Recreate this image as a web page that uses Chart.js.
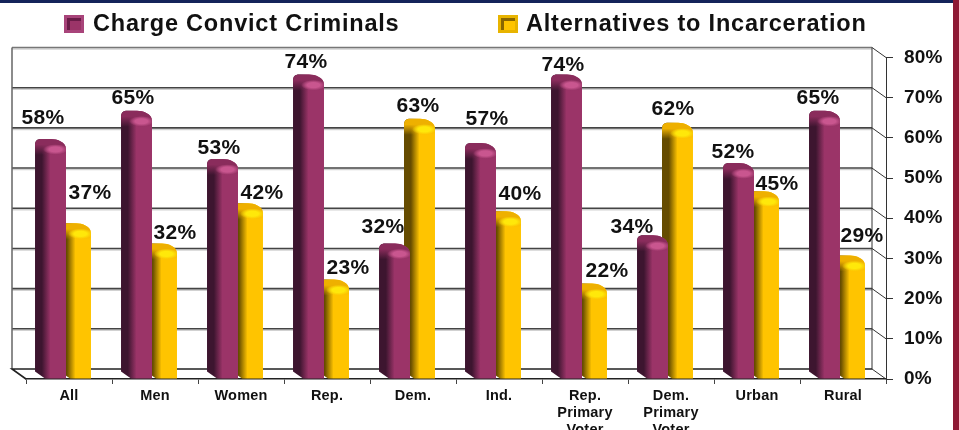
<!DOCTYPE html>
<html>
<head>
<meta charset="utf-8">
<style>
html,body{margin:0;padding:0;background:#fff;width:959px;height:430px;overflow:hidden}
#wrap{position:relative;width:959px;height:430px;overflow:hidden}
canvas{position:absolute;left:0;top:0;filter:blur(.45px)}
#navy{position:absolute;left:0;top:0;width:953px;height:3px;background:#14235a}
#maroon{position:absolute;left:953px;top:0;width:6px;height:430px;background:#8e1a35}
</style>
<script src="https://cdn.jsdelivr.net/npm/chart.js@4"></script>
</head>
<body>
<div id="wrap"><canvas id="c" width="959" height="430"></canvas><div id="navy"></div><div id="maroon"></div></div>
<script>
const categories = ["All","Men","Women","Rep.","Dem.","Ind.",["Rep.","Primary","Voter"],["Dem.","Primary","Voter"],"Urban","Rural"];
const chargeValues = [58,65,53,74,32,57,74,34,52,65];
const alternativeValues = [37,32,42,23,63,40,22,62,45,29];
const seriesNames = ["Charge Convict Criminals","Alternatives to Incarceration"];

// label nudges relative to each bar's head
const chargeLabelNudge = [[-7.5,-29],[-3.5,-21],[-3.5,-19],[-2.5,-20.5],[-11.5,-25],[6.5,-32],[-3.5,-17.5],[-20.5,-17],[-5.5,-19],[-6.5,-21]];
const alternativeLabelNudge = [[14.5,-39],[13.5,-19],[14.5,-19],[14.5,-19.5],[-1.5,-21],[14.5,-26],[15.5,-20.5],[-4.5,-22],[13.5,-15],[12.5,-28]];

const PURPLE = "#9b3468", GOLD = "#ffc400";
const shades = {
  [PURPLE]: {side:"#3d152f", cap:"#8a2c5c", glow:"#c9568f", bevel:"#a8447a", well:"#6a1c48"},
  [GOLD]:   {side:"#664c00", cap:"#eeb000", glow:"#ffe80a", bevel:"#e8b400", well:"#8a6600"}
};
const depthX = -14, depthY = -10, barShift = -6, legendX = [[64,93],[498,526]];

// Give the library's own bar element a rounded, shaded column look
Chart.BarElement.prototype.draw = function(ctx){
  const {x,y,base,width} = this.getProps(["x","y","base","width"], false);
  const col = this.options.backgroundColor, s = shades[col];
  const l = x - width/2, r = x + width/2;
  const shape = () => {
    ctx.beginPath();
    ctx.moveTo(l, base-7);
    ctx.lineTo(l, y-1);
    ctx.bezierCurveTo(l, y-5, l+2, y-7, l+6, y-7);
    ctx.lineTo(l+16, y-7);
    ctx.bezierCurveTo(l+22, y-7, r, y-4, r, y+3);
    ctx.lineTo(r, base);
    ctx.lineTo(l+10, base);
    ctx.closePath();
  };
  ctx.save();
  const g = ctx.createLinearGradient(l,0,r,0);
  g.addColorStop(0, s.side); g.addColorStop(.22, s.side); g.addColorStop(.5, col); g.addColorStop(1, col);
  shape(); ctx.fillStyle = g; ctx.fill();
  ctx.clip();
  // cap shading fades down into the column
  const cg = ctx.createLinearGradient(0,y-7,0,y+9);
  cg.addColorStop(0, s.cap); cg.addColorStop(.35, s.cap); cg.addColorStop(1, s.cap+"00");
  ctx.fillStyle = cg; ctx.fillRect(l, y-8, width, 18);
  // soft highlight
  ctx.translate(l+width*.66, y+3.5); ctx.scale(1,.42);
  const rad = width*.4;
  const hg = ctx.createRadialGradient(0,0,1,0,0,rad);
  hg.addColorStop(0, s.glow); hg.addColorStop(.45, s.glow); hg.addColorStop(1, s.glow+"00");
  ctx.fillStyle = hg; ctx.beginPath(); ctx.arc(0,0,rad,0,Math.PI*2); ctx.fill();
  ctx.restore();
};

const chart3d = {
  id:"chart3d",
  beforeLayout(c){ c.ctx.letterSpacing = "0.2px"; },
  beforeDraw(c){ c.ctx.letterSpacing = "0.2px"; },
  afterDatasetUpdate(c,{meta}){ meta.data.forEach(b=>{ b.x += barShift; }); },
  beforeDatasetsDraw(c){
    const ctx = c.ctx, ya = c.scales.y, a = c.chartArea;
    ctx.save();
    const top = ya.getPixelForValue(80), bot = ya.getPixelForValue(0);
    // back wall + side connectors
    ya.ticks.forEach(t=>{
      const yy = ya.getPixelForValue(t.value);
      if(t.value>0){
        ctx.strokeStyle="rgba(0,0,0,.18)"; ctx.lineWidth=1.5;
        ctx.beginPath(); ctx.moveTo(a.left+depthX,yy+depthY+1.5); ctx.lineTo(a.right+depthX,yy+depthY+1.5); ctx.stroke();
        ctx.strokeStyle=t.value===80?"#777":"#444"; ctx.lineWidth=1.6;
        ctx.beginPath(); ctx.moveTo(a.left+depthX,yy+depthY); ctx.lineTo(a.right+depthX,yy+depthY); ctx.stroke();
      }
      ctx.strokeStyle="#333"; ctx.lineWidth=1;
      ctx.beginPath(); ctx.moveTo(a.right+depthX,yy+depthY); ctx.lineTo(a.right,yy); ctx.stroke();
    });
    // wall verticals
    ctx.strokeStyle="#666"; ctx.lineWidth=1.5;
    ctx.beginPath(); ctx.moveTo(a.left+depthX,top+depthY); ctx.lineTo(a.left+depthX,bot+depthY); ctx.stroke();
    ctx.strokeStyle="#333"; ctx.lineWidth=1;
    ctx.beginPath(); ctx.moveTo(a.right+depthX,top+depthY); ctx.lineTo(a.right+depthX,bot+depthY); ctx.stroke();
    // floor
    ctx.strokeStyle="#222"; ctx.lineWidth=1.6;
    ctx.beginPath(); ctx.moveTo(a.left,bot); ctx.lineTo(a.left+depthX,bot+depthY); ctx.lineTo(a.right+depthX,bot+depthY); ctx.stroke();
    ctx.restore();
  },
  afterDatasetsDraw(c){
    const ctx = c.ctx;
    ctx.save();
    // value labels
    ctx.letterSpacing="0.3px"; ctx.font="bold 21px 'Liberation Sans'"; ctx.fillStyle="#111";
    ctx.textAlign="center"; ctx.textBaseline="middle";
    [chargeLabelNudge, alternativeLabelNudge].forEach((nudge,i)=>{
      c.getDatasetMeta(i).data.forEach((b,j)=>{
        ctx.fillText(c.data.datasets[i].data[j]+"%", b.x+nudge[j][0], b.y+nudge[j][1]+1.5);
      });
    });
    // legend
    ctx.letterSpacing="0.8px"; ctx.font="bold 23.5px 'Liberation Sans'"; ctx.textAlign="left";
    c.data.datasets.forEach((d,i)=>{
      const s = shades[d.backgroundColor], x = legendX[i][0];
      ctx.fillStyle=s.bevel; ctx.fillRect(x,15,20,18);
      ctx.fillStyle=s.well; ctx.fillRect(x+3,18,14,12);
      ctx.fillStyle=d.backgroundColor; ctx.fillRect(x+6,21,11,9);
      ctx.fillStyle="#111"; ctx.fillText(d.label, legendX[i][1], 24.5);
    });
    ctx.restore();
  }
};

new Chart(document.getElementById("c"),{
  type:"bar",
  plugins:[chart3d],
  data:{
    labels:categories,
    datasets:[
      {label:seriesNames[0],data:chargeValues,backgroundColor:PURPLE,categoryPercentage:.581,barPercentage:1.24},
      {label:seriesNames[1],data:alternativeValues,backgroundColor:GOLD,categoryPercentage:.581,barPercentage:1.24}
    ]
  },
  options:{
    responsive:false,animation:false,devicePixelRatio:1,events:[],
    layout:{padding:{left:26,top:57.5,right:0,bottom:0}},
    plugins:{legend:{display:false},title:{display:false},tooltip:{enabled:false}},
    scales:{
      x:{
        afterFit(s){s.height=51;},
        grid:{offset:true,drawOnChartArea:false,drawTicks:true,tickLength:5,color:"#444"},
        border:{color:"#222",width:1.6},
        ticks:{autoSkip:false,maxRotation:0,minRotation:0,padding:4,color:"#111",
          font:{family:"'Liberation Sans'",size:14.5,weight:"bold",lineHeight:1.15}}
      },
      y:{
        position:"right",min:0,max:80,
        afterFit(s){s.width=73;},
        grid:{drawOnChartArea:false,tickLength:7,color:"#333"},
        border:{color:"#333",width:1},
        ticks:{stepSize:10,padding:11,color:"#111",callback:v=>v+"%",
          font:{family:"'Liberation Sans'",size:19,weight:"bold"}}
      }
    }
  }
});
</script>
</body>
</html>
